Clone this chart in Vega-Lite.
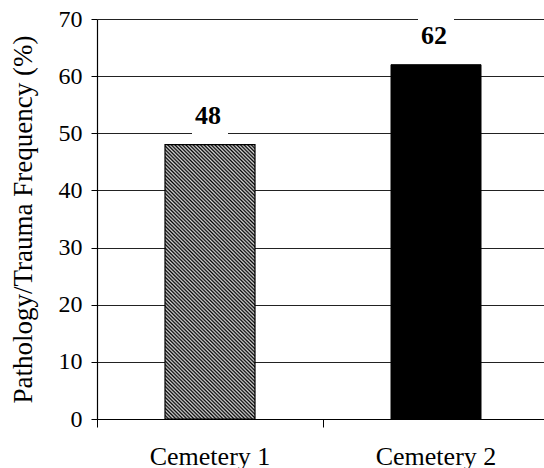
{
  "$schema": "https://vega.github.io/schema/vega-lite/v6.json",
  "autosize": "none",
  "width": 447,
  "height": 400,
  "padding": {"left": 97, "top": 19, "right": 0, "bottom": 49},
  "background": "white",
  "config": {
    "view": {"stroke": null},
    "font": "Liberation Serif",
    "axis": {"labelFont": "Liberation Serif", "titleFont": "Liberation Serif", "labelColor": "#000", "titleColor": "#000", "domainColor": "#000", "tickColor": "#000", "titleFontWeight": "normal"}
  },
  "data": {"values": [
    {"cemetery": "Cemetery 1", "freq": 48},
    {"cemetery": "Cemetery 2", "freq": 62}
  ]},
  "encoding": {
    "x": {"field": "cemetery", "type": "nominal", "sort": null,
      "scale": {"range": [0, 452], "paddingInner": 0, "paddingOuter": 0},
      "axis": {"title": null, "labelAngle": 0, "labelFontSize": 26, "labelPadding": 16, "tickSize": 8, "bandPosition": 0, "domainWidth": 1.2, "grid": false}},
    "y": {"field": "freq", "type": "quantitative",
      "scale": {"domain": [0, 70], "nice": false},
      "axis": {"title": "Pathology/Trauma Frequency (%)", "values": [0, 10, 20, 30, 40, 50, 60, 70], "labelFontSize": 24, "titleFontSize": 27, "tickSize": 6, "labelPadding": 9, "titlePadding": 21, "grid": true, "gridColor": "#222", "gridWidth": 1.2, "domainWidth": 1.2}}
  },
  "layer": [
    {
      "mark": {"type": "bar", "color": "white", "width": 36, "yOffset": -50, "y2Offset": -10},
      "encoding": {"y2": {"field": "freq"}}
    },
    {
      "transform": [{"filter": "datum.cemetery === 'Cemetery 1'"}],
      "mark": {"type": "bar", "width": 90, "stroke": "#000", "strokeWidth": 1.2,
        "fill": {"gradient": "linear", "x1": 0, "y1": 1, "x2": 0.3937, "y2": -0.1985, "stops": [
{"offset":0,"color":"#000"},{"offset":0.005,"color":"#d8d8d8"},{"offset":0.01,"color":"#000"},{"offset":0.015,"color":"#d8d8d8"},{"offset":0.02,"color":"#000"},{"offset":0.025,"color":"#d8d8d8"},{"offset":0.03,"color":"#000"},{"offset":0.035,"color":"#d8d8d8"},{"offset":0.04,"color":"#000"},{"offset":0.045,"color":"#d8d8d8"},
{"offset":0.05,"color":"#000"},{"offset":0.055,"color":"#d8d8d8"},{"offset":0.06,"color":"#000"},{"offset":0.065,"color":"#d8d8d8"},{"offset":0.07,"color":"#000"},{"offset":0.075,"color":"#d8d8d8"},{"offset":0.08,"color":"#000"},{"offset":0.085,"color":"#d8d8d8"},{"offset":0.09,"color":"#000"},{"offset":0.095,"color":"#d8d8d8"},
{"offset":0.1,"color":"#000"},{"offset":0.105,"color":"#d8d8d8"},{"offset":0.11,"color":"#000"},{"offset":0.115,"color":"#d8d8d8"},{"offset":0.12,"color":"#000"},{"offset":0.125,"color":"#d8d8d8"},{"offset":0.13,"color":"#000"},{"offset":0.135,"color":"#d8d8d8"},{"offset":0.14,"color":"#000"},{"offset":0.145,"color":"#d8d8d8"},
{"offset":0.15,"color":"#000"},{"offset":0.155,"color":"#d8d8d8"},{"offset":0.16,"color":"#000"},{"offset":0.165,"color":"#d8d8d8"},{"offset":0.17,"color":"#000"},{"offset":0.175,"color":"#d8d8d8"},{"offset":0.18,"color":"#000"},{"offset":0.185,"color":"#d8d8d8"},{"offset":0.19,"color":"#000"},{"offset":0.195,"color":"#d8d8d8"},
{"offset":0.2,"color":"#000"},{"offset":0.205,"color":"#d8d8d8"},{"offset":0.21,"color":"#000"},{"offset":0.215,"color":"#d8d8d8"},{"offset":0.22,"color":"#000"},{"offset":0.225,"color":"#d8d8d8"},{"offset":0.23,"color":"#000"},{"offset":0.235,"color":"#d8d8d8"},{"offset":0.24,"color":"#000"},{"offset":0.245,"color":"#d8d8d8"},
{"offset":0.25,"color":"#000"},{"offset":0.255,"color":"#d8d8d8"},{"offset":0.26,"color":"#000"},{"offset":0.265,"color":"#d8d8d8"},{"offset":0.27,"color":"#000"},{"offset":0.275,"color":"#d8d8d8"},{"offset":0.28,"color":"#000"},{"offset":0.285,"color":"#d8d8d8"},{"offset":0.29,"color":"#000"},{"offset":0.295,"color":"#d8d8d8"},
{"offset":0.3,"color":"#000"},{"offset":0.305,"color":"#d8d8d8"},{"offset":0.31,"color":"#000"},{"offset":0.315,"color":"#d8d8d8"},{"offset":0.32,"color":"#000"},{"offset":0.325,"color":"#d8d8d8"},{"offset":0.33,"color":"#000"},{"offset":0.335,"color":"#d8d8d8"},{"offset":0.34,"color":"#000"},{"offset":0.345,"color":"#d8d8d8"},
{"offset":0.35,"color":"#000"},{"offset":0.355,"color":"#d8d8d8"},{"offset":0.36,"color":"#000"},{"offset":0.365,"color":"#d8d8d8"},{"offset":0.37,"color":"#000"},{"offset":0.375,"color":"#d8d8d8"},{"offset":0.38,"color":"#000"},{"offset":0.385,"color":"#d8d8d8"},{"offset":0.39,"color":"#000"},{"offset":0.395,"color":"#d8d8d8"},
{"offset":0.4,"color":"#000"},{"offset":0.405,"color":"#d8d8d8"},{"offset":0.41,"color":"#000"},{"offset":0.415,"color":"#d8d8d8"},{"offset":0.42,"color":"#000"},{"offset":0.425,"color":"#d8d8d8"},{"offset":0.43,"color":"#000"},{"offset":0.435,"color":"#d8d8d8"},{"offset":0.44,"color":"#000"},{"offset":0.445,"color":"#d8d8d8"},
{"offset":0.45,"color":"#000"},{"offset":0.455,"color":"#d8d8d8"},{"offset":0.46,"color":"#000"},{"offset":0.465,"color":"#d8d8d8"},{"offset":0.47,"color":"#000"},{"offset":0.475,"color":"#d8d8d8"},{"offset":0.48,"color":"#000"},{"offset":0.485,"color":"#d8d8d8"},{"offset":0.49,"color":"#000"},{"offset":0.495,"color":"#d8d8d8"},
{"offset":0.5,"color":"#000"},{"offset":0.505,"color":"#d8d8d8"},{"offset":0.51,"color":"#000"},{"offset":0.515,"color":"#d8d8d8"},{"offset":0.52,"color":"#000"},{"offset":0.525,"color":"#d8d8d8"},{"offset":0.53,"color":"#000"},{"offset":0.535,"color":"#d8d8d8"},{"offset":0.54,"color":"#000"},{"offset":0.545,"color":"#d8d8d8"},
{"offset":0.55,"color":"#000"},{"offset":0.555,"color":"#d8d8d8"},{"offset":0.56,"color":"#000"},{"offset":0.565,"color":"#d8d8d8"},{"offset":0.57,"color":"#000"},{"offset":0.575,"color":"#d8d8d8"},{"offset":0.58,"color":"#000"},{"offset":0.585,"color":"#d8d8d8"},{"offset":0.59,"color":"#000"},{"offset":0.595,"color":"#d8d8d8"},
{"offset":0.6,"color":"#000"},{"offset":0.605,"color":"#d8d8d8"},{"offset":0.61,"color":"#000"},{"offset":0.615,"color":"#d8d8d8"},{"offset":0.62,"color":"#000"},{"offset":0.625,"color":"#d8d8d8"},{"offset":0.63,"color":"#000"},{"offset":0.635,"color":"#d8d8d8"},{"offset":0.64,"color":"#000"},{"offset":0.645,"color":"#d8d8d8"},
{"offset":0.65,"color":"#000"},{"offset":0.655,"color":"#d8d8d8"},{"offset":0.66,"color":"#000"},{"offset":0.665,"color":"#d8d8d8"},{"offset":0.67,"color":"#000"},{"offset":0.675,"color":"#d8d8d8"},{"offset":0.68,"color":"#000"},{"offset":0.685,"color":"#d8d8d8"},{"offset":0.69,"color":"#000"},{"offset":0.695,"color":"#d8d8d8"},
{"offset":0.7,"color":"#000"},{"offset":0.705,"color":"#d8d8d8"},{"offset":0.71,"color":"#000"},{"offset":0.715,"color":"#d8d8d8"},{"offset":0.72,"color":"#000"},{"offset":0.725,"color":"#d8d8d8"},{"offset":0.73,"color":"#000"},{"offset":0.735,"color":"#d8d8d8"},{"offset":0.74,"color":"#000"},{"offset":0.745,"color":"#d8d8d8"},
{"offset":0.75,"color":"#000"},{"offset":0.755,"color":"#d8d8d8"},{"offset":0.76,"color":"#000"},{"offset":0.765,"color":"#d8d8d8"},{"offset":0.77,"color":"#000"},{"offset":0.775,"color":"#d8d8d8"},{"offset":0.78,"color":"#000"},{"offset":0.785,"color":"#d8d8d8"},{"offset":0.79,"color":"#000"},{"offset":0.795,"color":"#d8d8d8"},
{"offset":0.8,"color":"#000"},{"offset":0.805,"color":"#d8d8d8"},{"offset":0.81,"color":"#000"},{"offset":0.815,"color":"#d8d8d8"},{"offset":0.82,"color":"#000"},{"offset":0.825,"color":"#d8d8d8"},{"offset":0.83,"color":"#000"},{"offset":0.835,"color":"#d8d8d8"},{"offset":0.84,"color":"#000"},{"offset":0.845,"color":"#d8d8d8"},
{"offset":0.85,"color":"#000"},{"offset":0.855,"color":"#d8d8d8"},{"offset":0.86,"color":"#000"},{"offset":0.865,"color":"#d8d8d8"},{"offset":0.87,"color":"#000"},{"offset":0.875,"color":"#d8d8d8"},{"offset":0.88,"color":"#000"},{"offset":0.885,"color":"#d8d8d8"},{"offset":0.89,"color":"#000"},{"offset":0.895,"color":"#d8d8d8"},
{"offset":0.9,"color":"#000"},{"offset":0.905,"color":"#d8d8d8"},{"offset":0.91,"color":"#000"},{"offset":0.915,"color":"#d8d8d8"},{"offset":0.92,"color":"#000"},{"offset":0.925,"color":"#d8d8d8"},{"offset":0.93,"color":"#000"},{"offset":0.935,"color":"#d8d8d8"},{"offset":0.94,"color":"#000"},{"offset":0.945,"color":"#d8d8d8"},
{"offset":0.95,"color":"#000"},{"offset":0.955,"color":"#d8d8d8"},{"offset":0.96,"color":"#000"},{"offset":0.965,"color":"#d8d8d8"},{"offset":0.97,"color":"#000"},{"offset":0.975,"color":"#d8d8d8"},{"offset":0.98,"color":"#000"},{"offset":0.985,"color":"#d8d8d8"},{"offset":0.99,"color":"#000"},{"offset":0.995,"color":"#d8d8d8"},
{"offset":1,"color":"#000"}
        ]}}
    },
    {
      "transform": [{"filter": "datum.cemetery === 'Cemetery 2'"}],
      "mark": {"type": "bar", "width": 90, "fill": "#000", "stroke": "#000", "strokeWidth": 1}
    },
    {
      "mark": {"type": "text", "font": "Liberation Serif", "fontSize": 26, "fontWeight": "bold", "baseline": "alphabetic", "dy": -21, "dx": -2, "color": "#000"},
      "encoding": {"text": {"field": "freq", "type": "quantitative"}}
    }
  ]
}
